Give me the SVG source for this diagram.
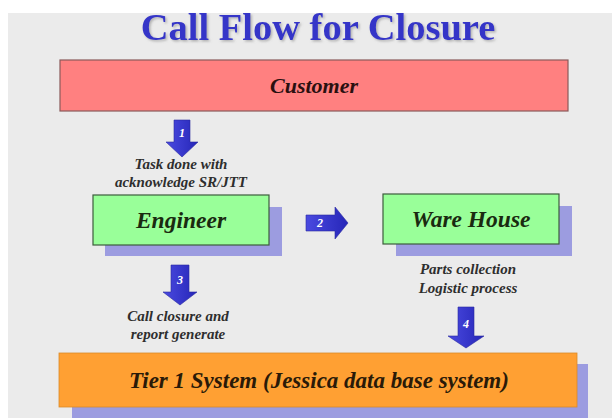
<svg xmlns="http://www.w3.org/2000/svg" width="612" height="418" viewBox="0 0 612 418">
<defs>
<filter id="ts" x="-5%" y="-20%" width="110%" height="150%">
<feDropShadow dx="1.5" dy="1.5" stdDeviation="0.8" flood-color="#888" flood-opacity="0.6"/>
</filter>
<linearGradient id="ag" x1="0" y1="0" x2="1" y2="0">
<stop offset="0" stop-color="#4a4ae0"/>
<stop offset="1" stop-color="#2626b8"/>
</linearGradient>
</defs>
<style>
.serif{font-family:"Liberation Serif","Times New Roman",serif}
.node{font-weight:bold;font-style:italic;text-anchor:middle}
.lbl{font-weight:bold;font-style:italic;font-size:15px;fill:#2e2e2e;text-anchor:middle}
.num{font-weight:bold;font-style:italic;font-size:12px;fill:#fff;text-anchor:middle}
.shadow{fill:#9c9ce0}
.green{fill:#99ff99;stroke:#3d5c3d;stroke-width:1.2}
.arrow{fill:url(#ag);stroke:#2a2aa0;stroke-width:0.6}
</style>
<rect x="0" y="0" width="612" height="418" fill="#ffffff"/>
<rect x="8" y="13" width="604" height="405" fill="#ebebeb"/>
<text class="serif" x="318" y="40" font-weight="bold" font-size="38.5" fill="#3535c8" text-anchor="middle" filter="url(#ts)">Call Flow for Closure</text>

<g id="customer" class="serif">
<rect x="60" y="60" width="508" height="51" fill="#ff8080" stroke="#8a5a5a" stroke-width="1.2"/>
<text class="node" x="314" y="93" font-size="22" fill="#2a1010">Customer</text>
</g>

<g id="engineer" class="serif">
<rect class="shadow" x="105" y="207" width="177" height="49"/>
<rect class="green" x="93" y="195" width="176" height="50"/>
<text class="node" x="181" y="228" font-size="23.5" fill="#1a2a10">Engineer</text>
</g>

<g id="warehouse" class="serif">
<rect class="shadow" x="396" y="206" width="176" height="50"/>
<rect class="green" x="383" y="194" width="176" height="50"/>
<text class="node" x="471" y="227" font-size="23.5" fill="#1a2a10">Ware House</text>
</g>

<g id="tier1" class="serif">
<rect class="shadow" x="72" y="364" width="516" height="54"/>
<rect x="59" y="353" width="518" height="54" fill="#ffa033" stroke="#d98a2a" stroke-width="0.8"/>
<text class="node" x="319" y="388" font-size="23" fill="#2a1a08">Tier 1 System (Jessica data base system)</text>
</g>

<g id="connectors" class="serif">
<polygon class="arrow" points="174,120 190,120 190,142 198,142 182,157 166,142 174,142"/>
<text class="num" x="182" y="137">1</text>
<polygon class="arrow" points="306,215 335,215 335,207 348,223 335,239 335,231 306,231"/>
<text class="num" x="320" y="227">2</text>
<polygon class="arrow" points="171,265 189,265 189,292 197,292 180,305 163,292 171,292"/>
<text class="num" x="180" y="284">3</text>
<polygon class="arrow" points="458,307 474,307 474,336 484,336 466,348 448,336 458,336"/>
<text class="num" x="466" y="328">4</text>
<text class="lbl" x="181" y="169">Task done with</text>
<text class="lbl" x="181" y="187">acknowledge SR/JTT</text>
<text class="lbl" x="468" y="274">Parts collection</text>
<text class="lbl" x="468" y="293">Logistic process</text>
<text class="lbl" x="178" y="321">Call closure and</text>
<text class="lbl" x="178" y="339">report generate</text>
</g>
</svg>
